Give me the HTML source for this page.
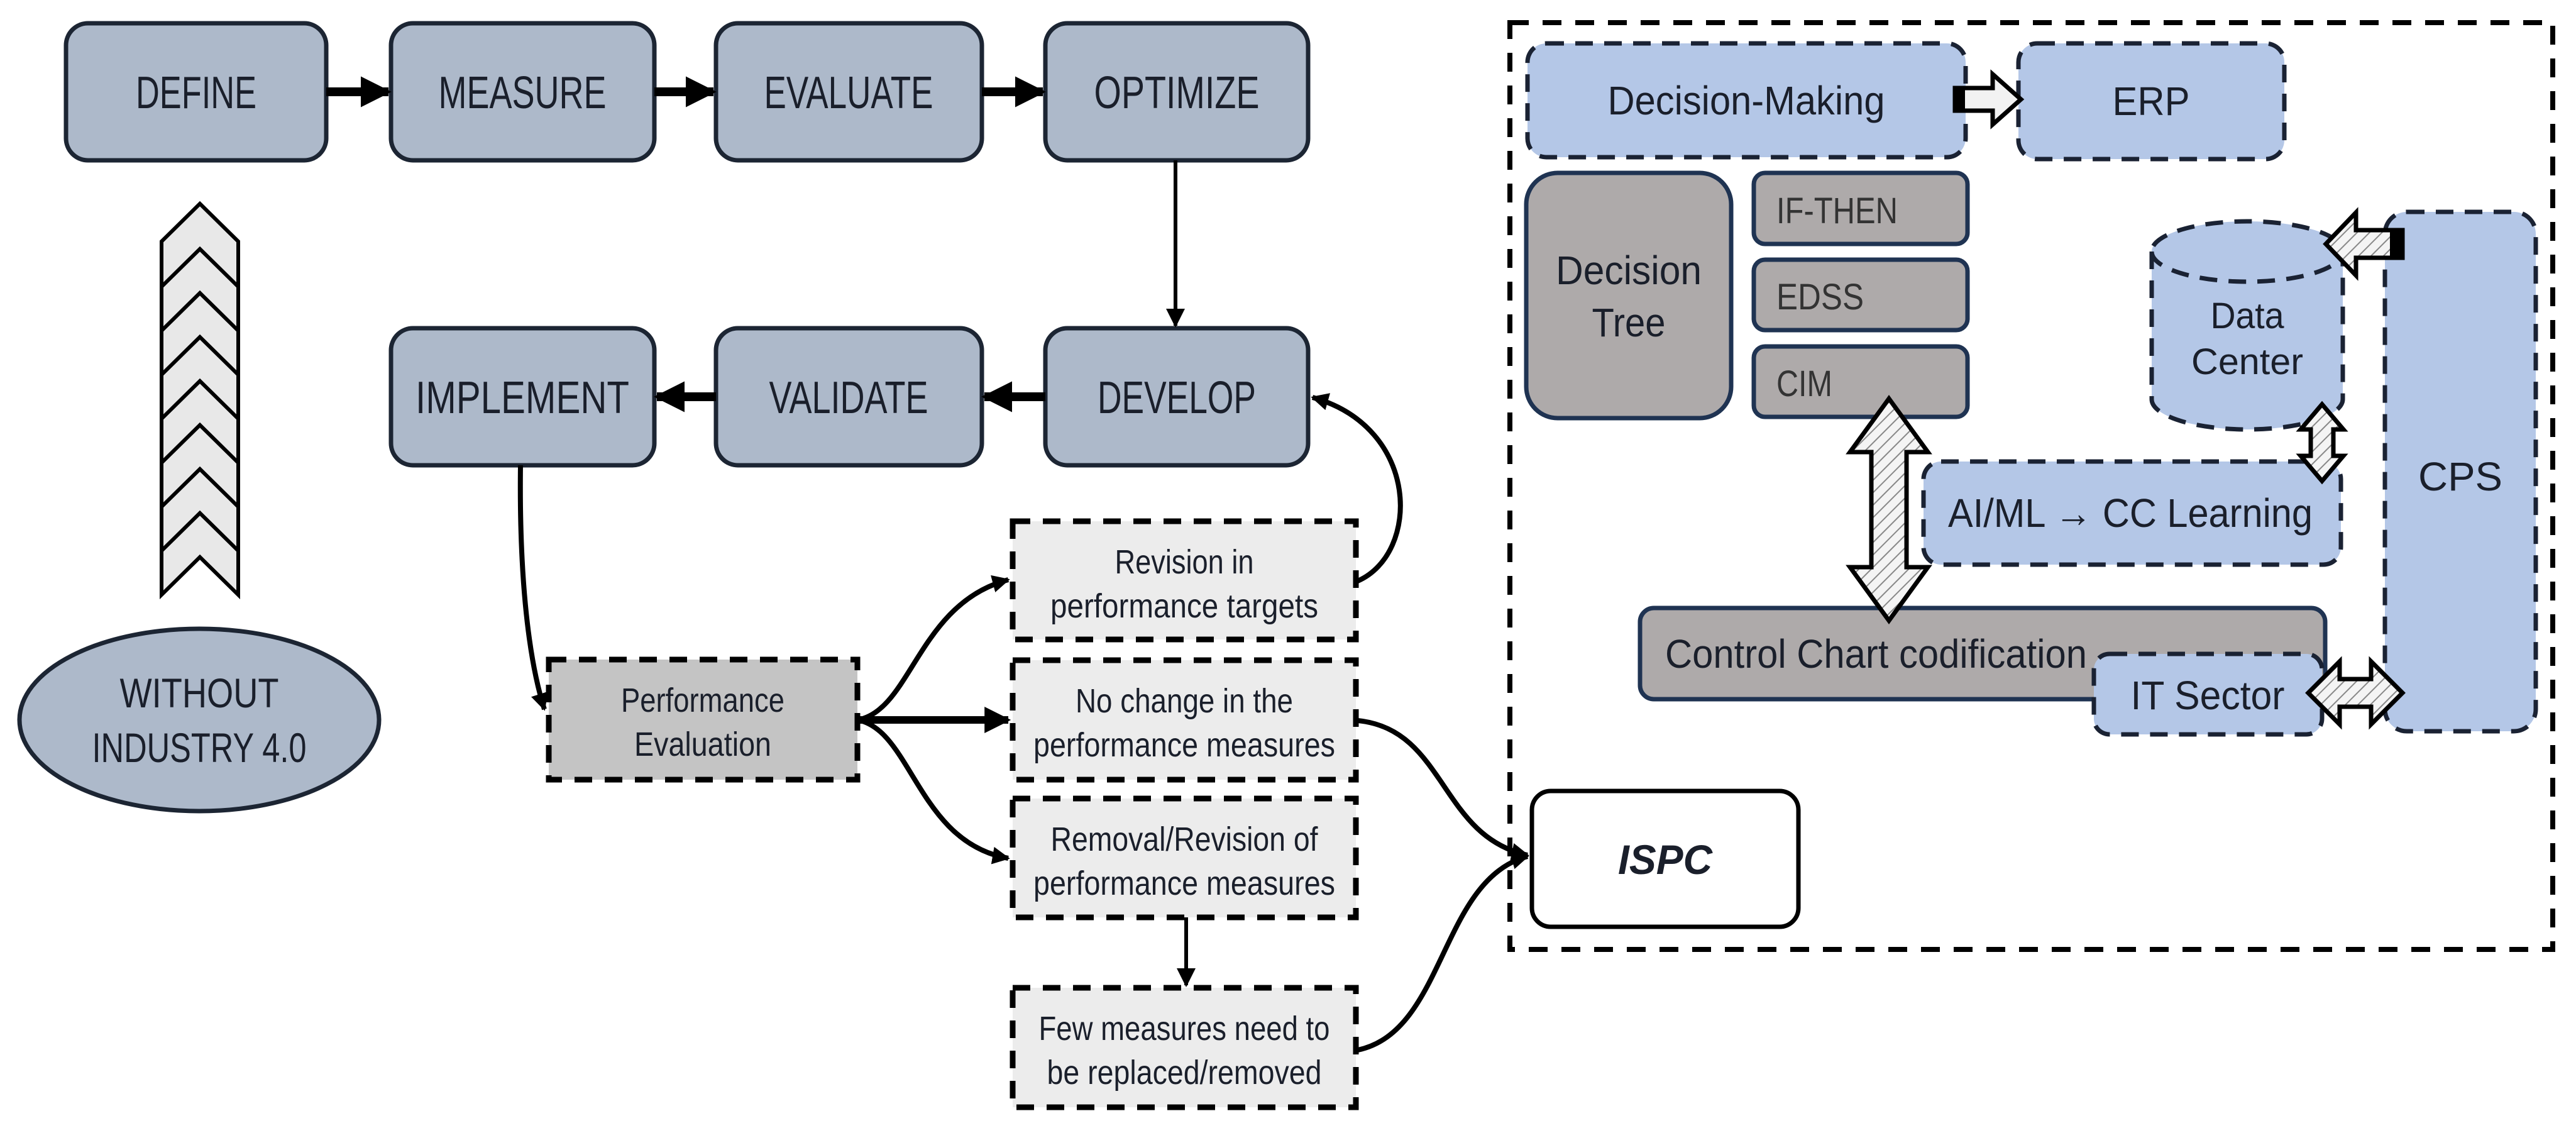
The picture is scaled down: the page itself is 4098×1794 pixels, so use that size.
<!DOCTYPE html>
<html><head><meta charset="utf-8"><style>
html,body{margin:0;padding:0;background:#fff;}
svg{display:block;}
.n{font-family:"Liberation Sans",sans-serif;fill:#1a1f2b;}
.a{font-family:"Liberation Sans",sans-serif;fill:#1a1f2b;}
</style></head><body>
<svg width="4098" height="1794" viewBox="0 0 4098 1794" xmlns="http://www.w3.org/2000/svg">
<defs>
<marker id="ar" viewBox="0 0 10 10" refX="9" refY="5" markerWidth="5" markerHeight="5" orient="auto" markerUnits="strokeWidth"><path d="M0,0 L10,5 L0,10 z" fill="#000"/></marker>
<marker id="ar2" viewBox="0 0 10 10" refX="9" refY="5" markerWidth="3.5" markerHeight="3.5" orient="auto" markerUnits="strokeWidth"><path d="M0,0 L10,5 L0,10 z" fill="#000"/></marker>
<pattern id="h" width="14" height="14" patternUnits="userSpaceOnUse" patternTransform="rotate(45)"><rect width="14" height="14" fill="#f4f4f4"/><line x1="0" y1="0" x2="0" y2="14" stroke="#888" stroke-width="4"/></pattern>
</defs>

<g fill="#adb9ca" stroke="#1c2533" stroke-width="7">
<rect x="105" y="37" width="414" height="218" rx="35"/>
<rect x="622" y="37" width="419" height="218" rx="35"/>
<rect x="1139" y="37" width="423" height="218" rx="35"/>
<rect x="1663" y="37" width="418" height="218" rx="35"/>
<rect x="622" y="522" width="419" height="218" rx="35"/>
<rect x="1139" y="522" width="423" height="218" rx="35"/>
<rect x="1663" y="522" width="418" height="218" rx="35"/>
<ellipse cx="317" cy="1145" rx="286" ry="145"/>
</g>
<g class="n" font-size="72" text-anchor="middle" lengthAdjust="spacingAndGlyphs">
<text x="312" y="172" textLength="192" lengthAdjust="spacingAndGlyphs">DEFINE</text>
<text x="831" y="172" textLength="267" lengthAdjust="spacingAndGlyphs">MEASURE</text>
<text x="1350" y="172" textLength="269" lengthAdjust="spacingAndGlyphs">EVALUATE</text>
<text x="1872" y="172" textLength="263" lengthAdjust="spacingAndGlyphs">OPTIMIZE</text>
<text x="831" y="657" textLength="340" lengthAdjust="spacingAndGlyphs">IMPLEMENT</text>
<text x="1350" y="657" textLength="253" lengthAdjust="spacingAndGlyphs">VALIDATE</text>
<text x="1872" y="657" textLength="252" lengthAdjust="spacingAndGlyphs">DEVELOP</text>
<text x="317" y="1125" font-size="66" textLength="253" lengthAdjust="spacingAndGlyphs">WITHOUT</text>
<text x="317" y="1212" font-size="66" textLength="341" lengthAdjust="spacingAndGlyphs">INDUSTRY 4.0</text>
</g>
<g stroke="#000" stroke-width="14" fill="none">
<line x1="519" y1="146" x2="618" y2="146" marker-end="url(#ar2)"/>
<line x1="1041" y1="146" x2="1135" y2="146" marker-end="url(#ar2)"/>
<line x1="1562" y1="146" x2="1659" y2="146" marker-end="url(#ar2)"/>
<line x1="1139" y1="631" x2="1045" y2="631" marker-end="url(#ar2)"/>
<line x1="1663" y1="631" x2="1566" y2="631" marker-end="url(#ar2)"/>
</g>
<line x1="1870" y1="255" x2="1870" y2="518" stroke="#000" stroke-width="6" marker-end="url(#ar)"/>

<g fill="#e8e8e8" stroke="#000" stroke-width="6" stroke-linejoin="miter">
<polygon points="257,874 318,814 379,874 379,946 318,886 257,946"/>
<polygon points="257,804 318,744 379,804 379,876 318,816 257,876"/>
<polygon points="257,734 318,674 379,734 379,806 318,746 257,806"/>
<polygon points="257,664 318,604 379,664 379,736 318,676 257,736"/>
<polygon points="257,594 318,534 379,594 379,666 318,606 257,666"/>
<polygon points="257,524 318,464 379,524 379,596 318,536 257,596"/>
<polygon points="257,454 318,394 379,454 379,526 318,466 257,526"/>
<polygon points="257,384 318,324 379,384 379,456 318,396 257,456"/>
</g>

<g stroke="#000" stroke-width="9" stroke-dasharray="28,20">
<rect x="873" y="1049" width="491" height="191" fill="#c4c4c4"/>
<rect x="1611" y="829" width="546" height="188" fill="#ececec"/>
<rect x="1611" y="1050" width="546" height="190" fill="#ececec"/>
<rect x="1611" y="1270" width="546" height="189" fill="#ececec"/>
<rect x="1611" y="1571" width="546" height="190" fill="#ececec"/>
</g>
<g class="n" font-size="54" text-anchor="middle" fill="#333">
<text x="1118" y="1132" textLength="260" lengthAdjust="spacingAndGlyphs">Performance</text>
<text x="1118" y="1202" textLength="218" lengthAdjust="spacingAndGlyphs">Evaluation</text>
<text x="1884" y="912" textLength="221" lengthAdjust="spacingAndGlyphs">Revision in</text>
<text x="1884" y="982" textLength="426" lengthAdjust="spacingAndGlyphs">performance  targets</text>
<text x="1884" y="1133" textLength="346" lengthAdjust="spacingAndGlyphs">No change in the</text>
<text x="1884" y="1203" textLength="480" lengthAdjust="spacingAndGlyphs">performance  measures</text>
<text x="1884" y="1353" textLength="425" lengthAdjust="spacingAndGlyphs">Removal/Revision of</text>
<text x="1884" y="1423" textLength="480" lengthAdjust="spacingAndGlyphs">performance  measures</text>
<text x="1884" y="1654" textLength="463" lengthAdjust="spacingAndGlyphs">Few measures need to</text>
<text x="1884" y="1724" textLength="437" lengthAdjust="spacingAndGlyphs">be replaced/removed</text>
</g>
<g stroke="#000" stroke-width="8" fill="none">
<path d="M828 740 C 826 900, 838 1040, 866 1128" marker-end="url(#ar2)"/>
<path d="M1364 1145 C 1450 1130, 1460 960, 1604 922" marker-end="url(#ar2)"/>
<path d="M1364 1145 L 1604 1145" stroke-width="12" marker-end="url(#ar2)"/>
<path d="M1364 1145 C 1450 1160, 1460 1340, 1604 1365" marker-end="url(#ar2)"/>
<path d="M2160 924 C 2260 880, 2260 680, 2088 632" marker-end="url(#ar2)"/>
<path d="M2160 1146 C 2300 1160, 2290 1330, 2430 1360" marker-end="url(#ar2)"/>
<path d="M2160 1670 C 2300 1640, 2290 1400, 2430 1362" marker-end="url(#ar2)"/>
</g>
<line x1="1887" y1="1459" x2="1887" y2="1567" stroke="#000" stroke-width="6" marker-end="url(#ar)"/>

<rect x="2402" y="36" width="1659" height="1474" fill="none" stroke="#000" stroke-width="8" stroke-dasharray="30,22"/>

<g fill="#b4c7e7" stroke="#1a2233" stroke-width="7" stroke-dasharray="28,18">
<rect x="2430" y="69" width="697" height="181" rx="30"/>
<rect x="3211" y="69" width="423" height="184" rx="30"/>
<rect x="3794" y="337" width="240" height="826" rx="35"/>
<rect x="3060" y="734" width="664" height="164" rx="28"/>
</g>
<g fill="#aeaaaa" stroke="#1f3352" stroke-width="7">
<rect x="2428" y="275" width="326" height="390" rx="50"/>
<rect x="2790" y="275" width="340" height="113" rx="18"/>
<rect x="2790" y="413" width="340" height="112" rx="18"/>
<rect x="2790" y="551" width="340" height="112" rx="18"/>
<rect x="2609" y="967" width="1090" height="145" rx="22"/>
</g>
<rect x="3331" y="1040" width="363" height="128" rx="25" fill="#b4c7e7" stroke="#1a2233" stroke-width="7" stroke-dasharray="28,18"/>
<path d="M3423 400 L3423 635 A152 48 0 0 0 3727 635 L3727 400 A152 48 0 0 0 3423 400 Z" fill="#b4c7e7" stroke="#1a2233" stroke-width="7" stroke-dasharray="28,18"/>
<path d="M3423 400 A152 48 0 0 0 3727 400" fill="none" stroke="#1a2233" stroke-width="7" stroke-dasharray="28,18"/>

<g class="a" font-size="64" text-anchor="middle">
<text x="2778" y="182" textLength="441" lengthAdjust="spacingAndGlyphs">Decision-Making</text>
<text x="3422" y="183" textLength="123" lengthAdjust="spacingAndGlyphs">ERP</text>
<text x="2591" y="452" textLength="232" lengthAdjust="spacingAndGlyphs">Decision</text>
<text x="2591" y="535" textLength="117" lengthAdjust="spacingAndGlyphs">Tree</text>
<text x="2826" y="355" text-anchor="start" fill="#333" font-size="58" textLength="193" lengthAdjust="spacingAndGlyphs">IF-THEN</text>
<text x="2826" y="492" text-anchor="start" fill="#333" font-size="58" textLength="139" lengthAdjust="spacingAndGlyphs">EDSS</text>
<text x="2826" y="630" text-anchor="start" fill="#333" font-size="58" textLength="89" lengthAdjust="spacingAndGlyphs">CIM</text>
<text x="3575" y="522" font-size="58" textLength="117" lengthAdjust="spacingAndGlyphs">Data</text>
<text x="3575" y="595" font-size="58" textLength="178" lengthAdjust="spacingAndGlyphs">Center</text>
<text x="3914" y="780" textLength="134" lengthAdjust="spacingAndGlyphs">CPS</text>
<text x="3389" y="838" textLength="580" lengthAdjust="spacingAndGlyphs">AI/ML → CC Learning</text>
<text x="2649" y="1062" text-anchor="start" textLength="671" lengthAdjust="spacingAndGlyphs">Control Chart codification</text>
<text x="3512" y="1128" textLength="245" lengthAdjust="spacingAndGlyphs">IT Sector</text>
</g>

<g stroke="#000" stroke-width="7" stroke-linejoin="miter">
<polygon fill="url(#h)" points="3005,634 3067,719 3033,719 3033,902 3067,902 3005,987 2943,902 2977,902 2977,719 2943,719"/>
<polygon fill="url(#h)" points="3694,643 3728,683 3712,683 3712,725 3728,725 3694,765 3660,725 3676,725 3676,683 3660,683"/>
<polygon fill="url(#h)" points="3672,1102 3722,1052 3722,1080 3772,1080 3772,1052 3822,1102 3772,1152 3772,1124 3722,1124 3722,1152"/>
<polygon fill="url(#h)" points="3700,388 3748,338 3748,366 3822,366 3822,410 3748,410 3748,438"/>
<polygon fill="#f2f2f2" points="3110,140 3170,140 3170,118 3215,158 3170,198 3170,176 3110,176"/>
</g>
<rect x="3802" y="366" width="20" height="44" fill="#000"/>
<rect x="3110" y="140" width="16" height="36" fill="#000"/>

<rect x="2437" y="1258" width="424" height="216" rx="30" fill="#fff" stroke="#000" stroke-width="7"/>
<text x="2649" y="1390" class="n" font-size="66" font-style="italic" font-weight="bold" text-anchor="middle" fill="#000" textLength="150" lengthAdjust="spacingAndGlyphs">ISPC</text>
</svg>
</body></html>
